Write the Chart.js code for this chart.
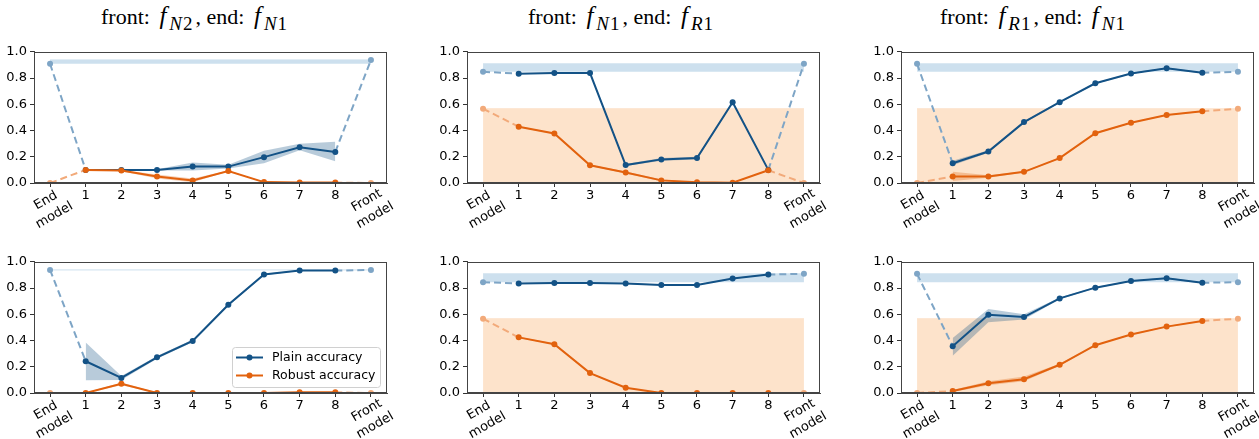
<!DOCTYPE html>
<html>
<head>
<meta charset="utf-8">
<script src="https://cdn.jsdelivr.net/npm/chart.js@4.4.0/dist/chart.umd.min.js"></script>
<style>
  body { margin: 0; width: 1259px; height: 439px; overflow: hidden; background: #fff; position: relative; }
  .panel { position: absolute; }
  .title { position: absolute; top: 2px; font-family: 'Liberation Serif', serif; font-size: 22px; white-space: nowrap; color: #000; }
  .title i.f { font-size: 25px; margin: 0 3px 0 4px; }
  .title sub { font-size: 19px; vertical-align: -6px; line-height: 0; margin-right: 2px; letter-spacing: 1px; }
</style>
</head>
<body>
<div class="title" style="left:101px">front: <i class="f">f</i><sub><i>N</i>2</sub>, end: <i class="f">f</i><sub><i>N</i>1</sub></div>
<div class="title" style="left:528px">front: <i class="f">f</i><sub><i>N</i>1</sub>, end: <i class="f">f</i><sub><i>R</i>1</sub></div>
<div class="title" style="left:940px">front: <i class="f">f</i><sub><i>R</i>1</sub>, end: <i class="f">f</i><sub><i>N</i>1</sub></div>

<canvas id="c1" class="panel"></canvas>
<canvas id="c2" class="panel"></canvas>
<canvas id="c3" class="panel"></canvas>
<canvas id="c4" class="panel"></canvas>
<canvas id="c5" class="panel"></canvas>
<canvas id="c6" class="panel"></canvas>

<script>
// x positions: 0 = End model, 1..8 = split points, 9 = Front model
const categories = ['End model', '1', '2', '3', '4', '5', '6', '7', '8', 'Front model'];
const yTicks = [0, 0.2, 0.4, 0.6, 0.8, 1.0];

// top row
const plain1 = [0.908, 0.100, 0.100, 0.100, 0.125, 0.125, 0.197, 0.272, 0.237, 0.938];
const plain1Lo = [0.095, 0.095, 0.095, 0.095, 0.110, 0.150, 0.250, 0.165];
const plain1Hi = [0.105, 0.105, 0.105, 0.157, 0.140, 0.245, 0.300, 0.315];
const robust1 = [0, 0.100, 0.095, 0.050, 0.020, 0.092, 0.007, 0.003, 0.003, 0];
const robust1Lo = [0.095, 0.090, 0.035, 0.005, 0.088, 0.004, 0.001, 0.001];
const robust1Hi = [0.105, 0.100, 0.065, 0.035, 0.096, 0.010, 0.005, 0.005];

const plain2 = [0.848, 0.833, 0.838, 0.838, 0.137, 0.180, 0.190, 0.616, 0.100, 0.908];
const plain2Lo = [0.830, 0.835, 0.835, 0.130, 0.170, 0.180, 0.610, 0.095];
const plain2Hi = [0.836, 0.841, 0.841, 0.145, 0.190, 0.200, 0.622, 0.105];
const robust2 = [0.566, 0.429, 0.377, 0.135, 0.080, 0.020, 0.005, 0.002, 0.097, 0];
const robust2Lo = [0.425, 0.372, 0.130, 0.072, 0.014, 0.002, 0, 0.093];
const robust2Hi = [0.433, 0.382, 0.140, 0.088, 0.026, 0.008, 0.004, 0.101];

const plain3 = [0.908, 0.150, 0.240, 0.464, 0.616, 0.760, 0.835, 0.875, 0.840, 0.848];
const plain3Lo = [0.135, 0.230, 0.458, 0.610, 0.755, 0.830, 0.870, 0.835];
const plain3Hi = [0.170, 0.250, 0.470, 0.622, 0.765, 0.840, 0.880, 0.845];
const robust3 = [0, 0.050, 0.050, 0.085, 0.190, 0.379, 0.459, 0.519, 0.546, 0.566];
const robust3Lo = [0.015, 0.040, 0.080, 0.185, 0.374, 0.455, 0.515, 0.542];
const robust3Hi = [0.085, 0.060, 0.090, 0.195, 0.384, 0.463, 0.523, 0.550];

// bottom row
const plain4 = [0.938, 0.242, 0.115, 0.272, 0.397, 0.673, 0.903, 0.933, 0.933, 0.938];
const plain4Lo = [0.097, 0.100, 0.262, 0.387, 0.663, 0.898, 0.930, 0.930];
const plain4Hi = [0.384, 0.130, 0.282, 0.407, 0.683, 0.908, 0.936, 0.936];
const robust4 = [0, 0, 0.070, 0, 0, 0, 0, 0.005, 0.005, 0];
const robust4Lo = [0, 0.060, 0, 0, 0, 0, 0.003, 0.003];
const robust4Hi = [0.003, 0.080, 0.003, 0, 0, 0, 0.007, 0.007];

const plain5 = [0.845, 0.835, 0.838, 0.838, 0.835, 0.823, 0.823, 0.873, 0.903, 0.908];
const plain5Lo = [0.831, 0.834, 0.834, 0.831, 0.819, 0.819, 0.869, 0.899];
const plain5Hi = [0.839, 0.842, 0.842, 0.839, 0.827, 0.827, 0.877, 0.907];
const robust5 = [0.566, 0.424, 0.372, 0.152, 0.040, 0, 0, 0, 0, 0];
const robust5Lo = [0.419, 0.367, 0.147, 0.036, 0, 0, 0, 0];
const robust5Hi = [0.429, 0.377, 0.157, 0.044, 0.002, 0, 0, 0];

const plain6 = [0.908, 0.357, 0.596, 0.579, 0.721, 0.803, 0.853, 0.875, 0.840, 0.845];
const plain6Lo = [0.284, 0.540, 0.560, 0.715, 0.798, 0.848, 0.870, 0.835];
const plain6Hi = [0.420, 0.640, 0.600, 0.727, 0.808, 0.858, 0.880, 0.845];
const robust6 = [0, 0.015, 0.075, 0.105, 0.215, 0.364, 0.446, 0.506, 0.549, 0.566];
const robust6Lo = [0.008, 0.060, 0.090, 0.208, 0.360, 0.442, 0.502, 0.545];
const robust6Hi = [0.022, 0.090, 0.125, 0.222, 0.368, 0.450, 0.510, 0.553];

const BLUE = '#135286';
const BLUE_LIGHT = '#7ea5c6';
const ORANGE = '#e2620e';
const ORANGE_LIGHT = '#f2aa7a';

// axes boxes in page pixels
const plotW = 353, plotH = 134;
const padL = 34, padT = 8, padR = 26, padB = 48;

const pts = (arr, from) => arr.map((v, i) => ({ x: i + from, y: v }));
const ends = arr => [
  { x: 0, y: arr[0] }, { x: 1, y: arr[1] }, { x: 4.5, y: null },
  { x: 8, y: arr[8] }, { x: 9, y: arr[9] }
];
const flat = (lo, hi) => [{ x: 0, y: hi }, { x: 9, y: hi }];

// frame on all four sides
const framePlugin = {
  id: 'frame',
  afterDraw(chart) {
    const a = chart.chartArea, ctx = chart.ctx;
    ctx.save();
    ctx.strokeStyle = '#444';
    ctx.lineWidth = 1;
    ctx.strokeRect(Math.round(a.left) + 0.5, Math.round(a.top) + 0.5,
      Math.round(a.right - a.left) - 1, Math.round(a.bottom - a.top) - 1);
    ctx.restore();
  }
};

// rotated two-line labels for the End / Front model ticks
const endLabels = {
  id: 'endLabels',
  afterDraw(chart) {
    const ctx = chart.ctx, xs = chart.scales.x, bottom = chart.chartArea.bottom;
    ctx.save();
    ctx.font = '13px "DejaVu Sans"';
    ctx.fillStyle = '#000';
    ctx.textAlign = 'center';
    ctx.textBaseline = 'middle';
    [0, 9].forEach(v => {
      const lines = categories[v].split(' ');
      ctx.save();
      ctx.translate(xs.getPixelForValue(v), bottom + 25);
      ctx.rotate(-Math.PI / 6);
      ctx.fillText(lines[0], 0, -8.5);
      ctx.fillText(lines[1], 0, 8.5);
      ctx.restore();
    });
    ctx.restore();
  }
};

const legendBox = {
  id: 'legendBox',
  afterDraw(chart) {
    if (!chart.options.plugins.legendBox.show) return;
    const ctx = chart.ctx, a = chart.chartArea;
    const w = 148, h = 40;
    const x = a.right - 7 - w, y = a.bottom - 6 - h;
    ctx.save();
    ctx.beginPath();
    ctx.roundRect(x + 0.5, y + 0.5, w, h, 3);
    ctx.fillStyle = 'rgba(255,255,255,0.85)';
    ctx.fill();
    ctx.strokeStyle = '#d0d0d0';
    ctx.lineWidth = 1;
    ctx.stroke();
    const rows = [['Plain accuracy', BLUE], ['Robust accuracy', ORANGE]];
    ctx.font = '12.5px "DejaVu Sans"';
    ctx.textBaseline = 'middle';
    rows.forEach(([label, col], i) => {
      const ry = y + 10.5 + i * 18;
      ctx.strokeStyle = col;
      ctx.lineWidth = 2;
      ctx.beginPath();
      ctx.moveTo(x + 4, ry);
      ctx.lineTo(x + 31, ry);
      ctx.stroke();
      ctx.fillStyle = col;
      ctx.beginPath();
      ctx.arc(x + 17.5, ry, 3, 0, Math.PI * 2);
      ctx.fill();
      ctx.fillStyle = '#000';
      ctx.fillText(label, x + 40, ry + 0.5);
    });
    ctx.restore();
  }
};

function makePanel(id, left, top, plain, plainLo, plainHi, robust, robustLo, robustHi, showLegend) {
  const canvas = document.getElementById(id);
  canvas.style.left = (left - padL) + 'px';
  canvas.style.top = (top - padT) + 'px';
  canvas.width = plotW + padL + padR;
  canvas.height = plotH + padT + padB;

  const pLo = Math.min(plain[0], plain[9]), pHi = Math.max(plain[0], plain[9]);
  const rLo = Math.min(robust[0], robust[9]), rHi = Math.max(robust[0], robust[9]);
  const endRadius = ctx => (ctx.raw && (ctx.raw.x === 0 || ctx.raw.x === 9)) ? 3 : 0;

  new Chart(canvas, {
    type: 'line',
    data: {
      datasets: [
        { data: flat(pLo, pHi), fill: { value: pLo }, backgroundColor: '#cde0ee', borderColor: '#cde0ee',
          borderWidth: 1, pointRadius: 0, order: 10 },
        { data: flat(rLo, rHi), fill: { value: rLo }, backgroundColor: '#fde3cb', borderColor: '#fde3cb',
          borderWidth: rHi > rLo ? 1 : 0, pointRadius: 0, order: 9 },
        { data: pts(plainHi, 1), fill: '+1', backgroundColor: 'rgba(19,82,134,0.3)', borderWidth: 0,
          pointRadius: 0, order: 8 },
        { data: pts(plainLo, 1), fill: false, borderWidth: 0, pointRadius: 0, order: 8 },
        { data: pts(robustHi, 1), fill: '+1', backgroundColor: 'rgba(226,98,14,0.3)', borderWidth: 0,
          pointRadius: 0, order: 7 },
        { data: pts(robustLo, 1), fill: false, borderWidth: 0, pointRadius: 0, order: 7 },
        { data: ends(plain), borderColor: BLUE_LIGHT, borderWidth: 2, borderDash: [7, 4],
          pointRadius: endRadius, pointBackgroundColor: BLUE_LIGHT, pointBorderWidth: 0, order: 4 },
        { data: ends(robust), borderColor: ORANGE_LIGHT, borderWidth: 2, borderDash: [7, 4],
          pointRadius: endRadius, pointBackgroundColor: ORANGE_LIGHT, pointBorderWidth: 0, order: 3 },
        { data: pts(plain.slice(1, 9), 1), borderColor: BLUE, borderWidth: 2, pointRadius: 3,
          pointBackgroundColor: BLUE, pointBorderWidth: 0, order: 2 },
        { data: pts(robust.slice(1, 9), 1), borderColor: ORANGE, borderWidth: 2, pointRadius: 3,
          pointBackgroundColor: ORANGE, pointBorderWidth: 0, order: 1 }
      ]
    },
    options: {
      responsive: false,
      animation: false,
      spanGaps: false,
      layout: { padding: { top: padT, right: padR, left: 0, bottom: 0 } },
      plugins: { legend: { display: false }, tooltip: { enabled: false }, legendBox: { show: showLegend } },
      scales: {
        x: {
          type: 'linear', min: -0.45, max: 9.45,
          afterBuildTicks: axis => { axis.ticks = categories.map((c, i) => ({ value: i })); },
          afterFit: axis => { axis.height = padB; },
          ticks: {
            autoSkip: false, maxRotation: 0, minRotation: 0, padding: 1,
            color: '#000', font: { family: 'DejaVu Sans', size: 13 },
            callback: v => (v >= 1 && v <= 8) ? categories[v] : ''
          },
          grid: { drawOnChartArea: false, drawTicks: true, tickLength: 4, color: '#333' },
          border: { display: true, color: '#444' }
        },
        y: {
          min: 0, max: 1,
          afterBuildTicks: axis => { axis.ticks = yTicks.map(v => ({ value: v })); },
          afterFit: axis => { axis.width = padL; },
          ticks: {
            padding: 3, color: '#000', font: { family: 'DejaVu Sans', size: 13 },
            callback: v => v.toFixed(1)
          },
          grid: { drawOnChartArea: false, drawTicks: true, tickLength: 4, color: '#333' },
          border: { display: true, color: '#444' }
        }
      }
    },
    plugins: [framePlugin, endLabels, legendBox]
  });
}

makePanel('c1', 34, 49, plain1, plain1Lo, plain1Hi, robust1, robust1Lo, robust1Hi, false);
makePanel('c2', 467, 49, plain2, plain2Lo, plain2Hi, robust2, robust2Lo, robust2Hi, false);
makePanel('c3', 901, 49, plain3, plain3Lo, plain3Hi, robust3, robust3Lo, robust3Hi, false);
makePanel('c4', 34, 259, plain4, plain4Lo, plain4Hi, robust4, robust4Lo, robust4Hi, true);
makePanel('c5', 467, 259, plain5, plain5Lo, plain5Hi, robust5, robust5Lo, robust5Hi, false);
makePanel('c6', 901, 259, plain6, plain6Lo, plain6Hi, robust6, robust6Lo, robust6Hi, false);
</script>
</body>
</html>
